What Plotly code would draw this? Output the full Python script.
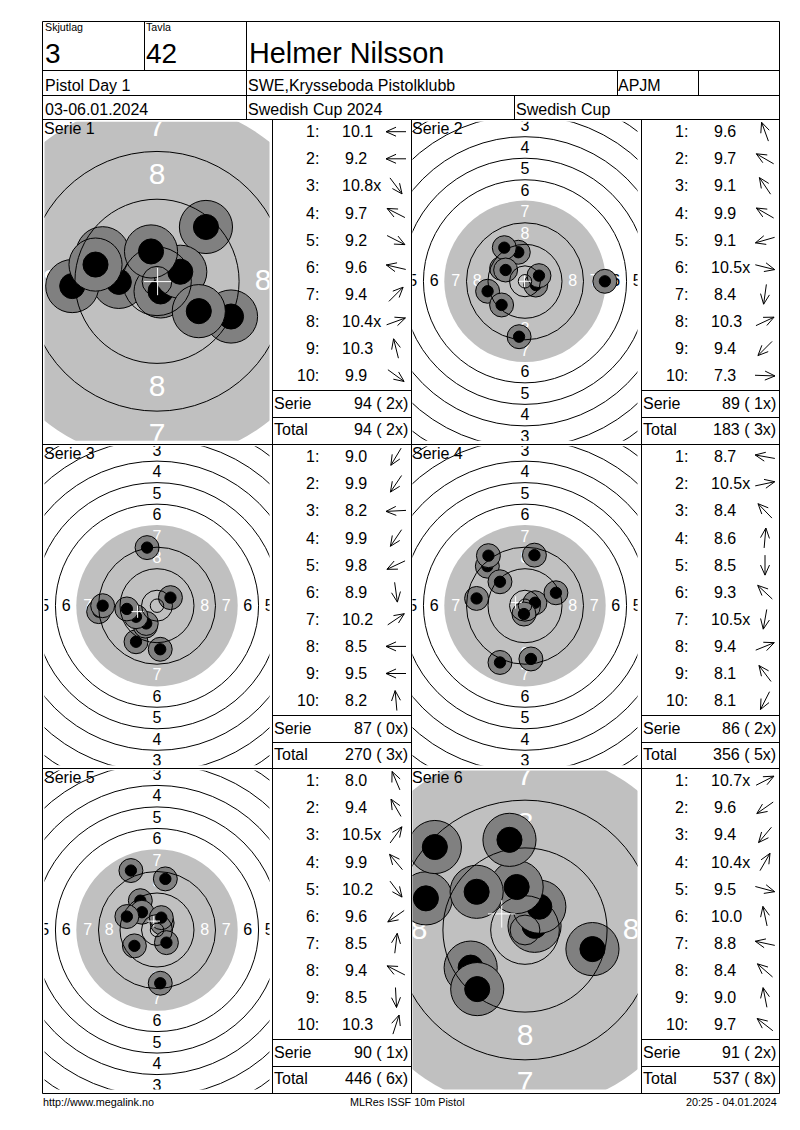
import math

import plotly.graph_objects as go

# ============================================================
# Data read from the print-out
# ============================================================

HEADER_RELAY = "3"
HEADER_LANE = "42"
SHOOTER = "Helmer Nilsson"
EVENT = "Pistol Day 1"
CLUB = "SWE,Krysseboda Pistolklubb"
CLASS_CODE = "APJM"
DATES = "03-06.01.2024"
COMPETITION = "Swedish Cup 2024"
CUP = "Swedish Cup"

SERIES_NAMES = ["Serie 1", "Serie 2", "Serie 3", "Serie 4", "Serie 5", "Serie 6"]

SCORES = [
    ["10.1", "9.2", "10.8x", "9.7", "9.2", "9.6", "9.4", "10.4x", "10.3", "9.9"],
    ["9.6", "9.7", "9.1", "9.9", "9.1", "10.5x", "8.4", "10.3", "9.4", "7.3"],
    ["9.0", "9.9", "8.2", "9.9", "9.8", "8.9", "10.2", "8.5", "9.5", "8.2"],
    ["8.7", "10.5x", "8.4", "8.6", "8.5", "9.3", "10.5x", "9.4", "8.1", "8.1"],
    ["8.0", "9.4", "10.5x", "9.9", "10.2", "9.6", "8.5", "9.4", "8.5", "10.3"],
    ["10.7x", "9.6", "9.4", "10.4x", "9.5", "10.0", "8.8", "8.4", "9.0", "9.7"],
]

# arrow direction of each shot, degrees counter-clockwise from east
ARROW_DEG = [
    [180, 180, -53, 153, -27, 167, 45, 20, 104, -36],
    [110, 150, 124, 150, 196, -14, 262, 25, 225, -2],
    [239, 236, 183, 236, 205, -82, 34, 180, 180, 95],
    [170, 12, 134, 85, -90, 137, 260, 22, 127, 243],
    [113, 120, 54, 130, -53, 215, 83, 153, -87, 72],
    [27, 215, 230, 60, -15, 102, 168, 139, 101, 142],
]

# shot positions on the target, mm from the centre
SHOT_X = [
    [-6.4, -14.2, 0.6, -9.1, 12.4, -10.3, 8.2, 3.9, -1.0, 7.0],
    [-2.5, -8.7, -7.7, -7.2, -13.9, 4.0, -2.2, 5.2, -8.7, 29.7],
    [-7.8, -4.3, -21.7, -4.0, -7.8, 1.2, 5.0, -20.2, -11.2, -3.7],
    [-18.0, 3.7, -14.0, 3.5, 2.2, -9.3, -0.4, 11.5, -13.6, -9.3],
    [-9.7, -6.2, 1.9, -5.6, 3.5, -8.4, 3.1, -11.2, 1.2, 1.6],
    [1.6, -9.1, -8.0, 2.4, 11.3, -1.4, -16.6, -15.1, -2.6, -8.1],
]
SHOT_Y = [
    [-0.1, -0.8, -1.7, 4.7, -5.9, 2.8, 9.1, 1.6, 5.0, -5.0],
    [10.8, 4.8, 12.5, 4.2, -3.7, -1.4, -20.6, 2.1, -8.8, 0.0],
    [-13.4, -7.6, -2.2, -6.6, -4.1, -16.2, 3.0, 0.0, -1.2, 21.6],
    [2.7, 1.1, 14.7, 18.8, -19.8, 8.9, -3.1, 4.8, 18.6, -21.1],
    [22.1, 10.9, 2.6, 6.6, -4.7, -5.9, 19.0, 5.0, -19.8, 4.6],
    [0.7, -6.3, -9.9, 3.9, -3.2, 7.2, 5.3, 13.9, 15.1, 6.4],
]

# white cross (mean point of impact), mm
CROSS_X = [0.1, -0.2, -7.2, -3.5, -1.2, -3.9]
CROSS_Y = [-0.05, 0.0, -2.2, 1.2, 3.3, 2.7]

SERIE_SUMS = ["94 ( 2x)", "89 ( 1x)", "87 ( 0x)", "86 ( 2x)", "90 ( 1x)", "91 ( 2x)"]
TOTAL_SUMS = ["94 ( 2x)", "183 ( 3x)", "270 ( 3x)", "356 ( 5x)", "446 ( 6x)", "537 ( 8x)"]

# ISSF 10 m air pistol target, ring radii in mm
RING_RADII = [2.5, 5.75, 13.75, 21.75, 37.75, 45.75, 53.75, 61.75, 69.75]
DISC_RADIUS = 30.0
RING_LABELS = [8, 7, 6, 5, 4, 3]
LABEL_RADII = [17.75, 25.75, 33.75, 41.75, 49.75, 57.75]

FOOTER_LEFT = "http://www.megalink.no"
FOOTER_MID = "MLRes ISSF 10m Pistol"
FOOTER_RIGHT = "20:25 - 04.01.2024"

# ============================================================
# Layout (page pixels)
# ============================================================

WIDTH, HEIGHT = 800, 1130
FONT = "Liberation Sans, Arial, sans-serif"

TARGET_COL_X = [157.0, 525.0]
TARGET_ROW_Y = [281.3, 605.7, 930.0]
TABLE_LEFT = [272, 641]
TABLE_RIGHT = [411, 779]
BLOCK_TOP = [119, 444, 768]
TARGET_HALF_W = 112.5
TARGET_HALF_H = 159.5

PX_PER_MM = [5.97, 2.69, 2.69, 2.69, 2.69, 5.97]
LABEL_SIZE = [30, 16, 16, 16, 16, 30]
LABEL_DROP_PX = 1.2

DISC_GREY = "#C0C0C0"
SHOT_GREY = "#808080"

fig = go.Figure()
annotations = []
shapes = []


def label(x, y, text, size=16, anchor="left"):
    shift = {"left": -2, "right": 1, "center": 0}[anchor]
    annotations.append(
        dict(
            x=x + shift,
            y=y,
            xref="x",
            yref="y",
            text=text,
            showarrow=False,
            xanchor=anchor,
            yanchor="middle",
            font=dict(family=FONT, size=size, color="black"),
        )
    )


def rule(x0, y0, x1, y1):
    shapes.append(
        dict(
            type="line",
            xref="x",
            yref="y",
            x0=x0,
            y0=y0,
            x1=x1,
            y1=y1,
            layer="above",
            line=dict(color="black", width=1),
        )
    )


# ============================================================
# Page frame and header
# ============================================================

rule(42.5, 21.5, 779.5, 21.5)
rule(42.5, 70.5, 779.5, 70.5)
rule(42.5, 95.5, 779.5, 95.5)
rule(42.5, 119.5, 779.5, 119.5)
rule(42.5, 444.5, 779.5, 444.5)
rule(42.5, 768.5, 779.5, 768.5)
rule(42.5, 1093.5, 779.5, 1093.5)
rule(42.5, 21.5, 42.5, 1093.5)
rule(779.5, 21.5, 779.5, 1093.5)
rule(144.5, 21.5, 144.5, 70.5)
rule(246.5, 21.5, 246.5, 119.5)
rule(617.5, 70.5, 617.5, 95.5)
rule(698.5, 70.5, 698.5, 95.5)
rule(514.5, 95.5, 514.5, 119.5)
rule(272.5, 119.5, 272.5, 1093.5)
rule(411.5, 119.5, 411.5, 1093.5)
rule(641.5, 119.5, 641.5, 1093.5)

label(44.5, 27, "Skjutlag", 10.7)
label(146, 27, "Tavla", 10.7)
label(45, 53, HEADER_RELAY, 28)
label(146, 53, HEADER_LANE, 28)
label(248.5, 53, SHOOTER, 28.8)
label(45, 85, EVENT)
label(248, 85, CLUB)
label(618, 85, CLASS_CODE)
label(45, 109.5, DATES)
label(248, 109.5, COMPETITION)
label(516, 109.5, CUP)

label(43, 1102, FOOTER_LEFT, 10.8)
label(407, 1102, FOOTER_MID, 10.8, "center")
label(778, 1102, FOOTER_RIGHT, 10.8, "right")

# ============================================================
# Result tables
# ============================================================

arrow_x, arrow_y = [], []

for s in range(6):
    col = s % 2
    row = s // 2
    left = TABLE_LEFT[col]
    right = TABLE_RIGHT[col]
    top = BLOCK_TOP[row]

    rule(left + 0.5, top + 271.5, right + 0.5, top + 271.5)
    rule(left + 0.5, top + 298.5, right + 0.5, top + 298.5)

    for i in range(10):
        y = top + 12.7 + 27.1 * i
        label(left + 47.5, y, f"{i + 1}:", 16, "right")

        score = SCORES[s][i]
        digits = score.rstrip("x")
        half = 14.5 if len(digits) == 4 else 10.7
        label(left + 84 - half, y, score)

        # arrow: tail, tip and two wings of an open head
        a = math.radians(ARROW_DEG[s][i])
        cx = left + 124
        tip = (cx + 10 * math.cos(a), y - 10 * math.sin(a))
        tail = (cx - 10 * math.cos(a), y + 10 * math.sin(a))
        for w in (-0.42, 0.42):
            wing = (tip[0] - 11 * math.cos(a + w), tip[1] + 11 * math.sin(a + w))
            arrow_x += [tip[0], wing[0], None]
            arrow_y += [tip[1], wing[1], None]
        arrow_x += [tail[0], tip[0], None]
        arrow_y += [tail[1], tip[1], None]

    label(left + 2, top + 284, "Serie")
    label(left + 2, top + 310.5, "Total")
    label(right - 2, top + 284, SERIE_SUMS[s], 16, "right")
    label(right - 2, top + 310.5, TOTAL_SUMS[s], 16, "right")

    label(TARGET_COL_X[col] - 113.5, top + 9, SERIES_NAMES[s])

fig.add_trace(
    go.Scatter(
        x=arrow_x,
        y=arrow_y,
        mode="lines",
        line=dict(color="black", width=1),
        hoverinfo="skip",
        xaxis="x",
        yaxis="y",
    )
)

# ============================================================
# Targets
# ============================================================

axes = {}

for s in range(6):
    cx = TARGET_COL_X[s % 2]
    cy = TARGET_ROW_Y[s // 2]
    scale = PX_PER_MM[s]
    n = s + 2
    xname, yname = f"x{n}", f"y{n}"

    span_x = TARGET_HALF_W / scale
    span_y = TARGET_HALF_H / scale
    axes[f"xaxis{n}"] = dict(
        domain=[(cx - TARGET_HALF_W) / WIDTH, (cx + TARGET_HALF_W) / WIDTH],
        range=[-span_x, span_x],
        anchor=yname,
        visible=False,
        fixedrange=True,
    )
    axes[f"yaxis{n}"] = dict(
        domain=[
            1 - (cy + TARGET_HALF_H) / HEIGHT,
            1 - (cy - TARGET_HALF_H) / HEIGHT,
        ],
        range=[-span_y, span_y],
        anchor=xname,
        visible=False,
        fixedrange=True,
    )

    # aiming disc goes under everything, ring lines over the shots
    shapes.append(
        dict(
            type="circle",
            xref=xname,
            yref=yname,
            x0=-DISC_RADIUS,
            y0=-DISC_RADIUS,
            x1=DISC_RADIUS,
            y1=DISC_RADIUS,
            layer="below",
            fillcolor=DISC_GREY,
            line=dict(width=0),
        )
    )
    for r in RING_RADII:
        shapes.append(
            dict(
                type="circle",
                xref=xname,
                yref=yname,
                x0=-r,
                y0=-r,
                x1=r,
                y1=r,
                layer="above",
                line=dict(color="black", width=1),
            )
        )

    # ring numbers on the four axes, only those that reach into the view
    pad_mm = LABEL_SIZE[s] / scale
    drop = LABEL_DROP_PX / scale
    num_x, num_y, num_text, num_color = [], [], [], []
    for value, r in zip(RING_LABELS, LABEL_RADII):
        color = "white" if value >= 7 else "black"
        for dx, dy in ((0, 1), (0, -1), (-1, 0), (1, 0)):
            if abs(dx * r) > span_x + pad_mm / 2 or abs(dy * r) > span_y + pad_mm / 2:
                continue
            num_x.append(dx * r)
            num_y.append(dy * r - drop)
            num_text.append(str(value))
            num_color.append(color)
    fig.add_trace(
        go.Scatter(
            x=num_x,
            y=num_y,
            text=num_text,
            mode="text",
            textposition="middle center",
            textfont=dict(family=FONT, size=LABEL_SIZE[s], color=num_color),
            hoverinfo="skip",
            xaxis=xname,
            yaxis=yname,
        )
    )

    # each shot is a grey disc with a black core, later shots on top
    pts_x, pts_y, sizes, fills = [], [], [], []
    for x, y in zip(SHOT_X[s], SHOT_Y[s]):
        pts_x += [x, x]
        pts_y += [y, y]
        sizes += [2 * 4.45 * scale, 2 * 2.1 * scale]
        fills += [SHOT_GREY, "black"]
    fig.add_trace(
        go.Scatter(
            x=pts_x,
            y=pts_y,
            mode="markers",
            marker=dict(
                size=sizes,
                color=fills,
                opacity=1,
                line=dict(color="black", width=1),
            ),
            hoverinfo="skip",
            xaxis=xname,
            yaxis=yname,
        )
    )

    # cross-thin arms are 1.4 times the marker radius
    fig.add_trace(
        go.Scatter(
            x=[CROSS_X[s]],
            y=[CROSS_Y[s]],
            mode="markers",
            marker=dict(
                symbol="cross-thin",
                size=2 * 2.3 * scale / 1.4,
                line=dict(color="white", width=1),
            ),
            hoverinfo="skip",
            xaxis=xname,
            yaxis=yname,
        )
    )

fig.update_layout(
    width=WIDTH,
    height=HEIGHT,
    margin=dict(l=0, r=0, t=0, b=0),
    paper_bgcolor="white",
    plot_bgcolor="rgba(0,0,0,0)",
    showlegend=False,
    hovermode=False,
    xaxis=dict(range=[0, WIDTH], domain=[0, 1], visible=False, fixedrange=True),
    yaxis=dict(range=[HEIGHT, 0], domain=[0, 1], visible=False, fixedrange=True),
    annotations=annotations,
    shapes=shapes,
    **axes,
)

fig.write_html(
    "out.html",
    config=dict(displayModeBar=False),
    post_script="document.body.style.margin='0';",
)
